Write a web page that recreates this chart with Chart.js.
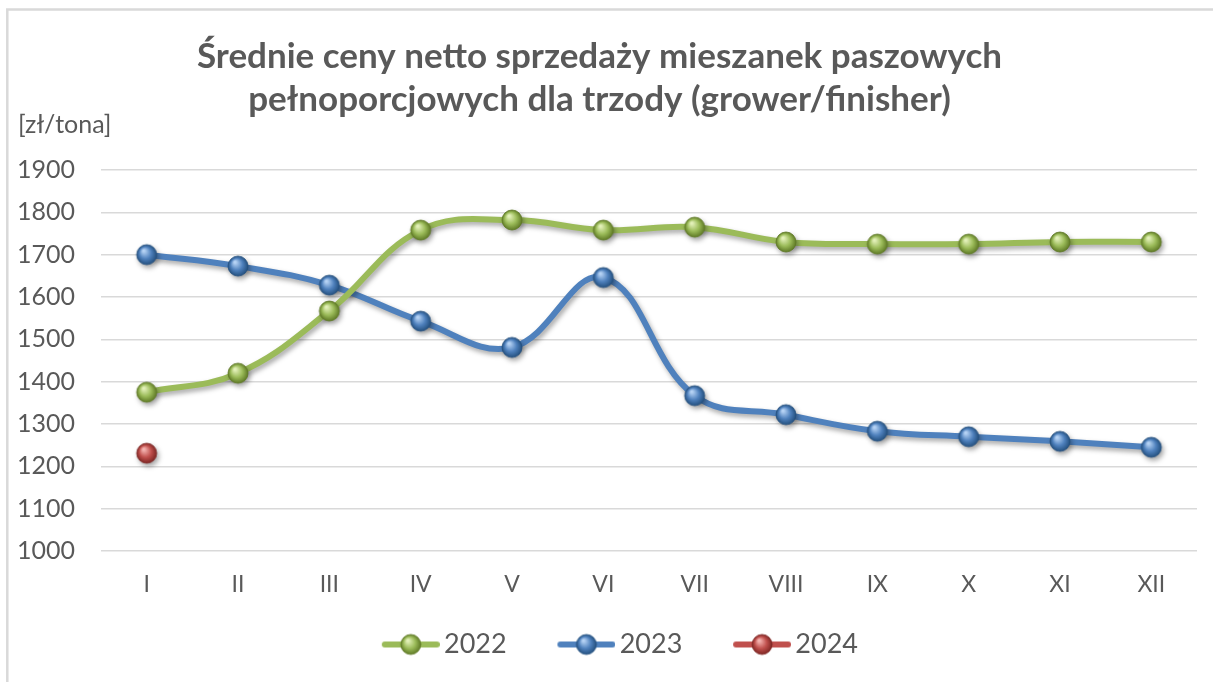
<!DOCTYPE html>
<html><head><meta charset="utf-8">
<script src="https://cdn.jsdelivr.net/npm/chart.js@4.4.1/dist/chart.umd.min.js"></script>
<style>html,body{margin:0;padding:0;background:#fff}#wrap{width:1213px;height:682px;position:relative}</style>
</head><body><div id="wrap"><canvas id="c" width="1213" height="682"></canvas></div>
<script>
const months = ['I','II','III','IV','V','VI','VII','VIII','IX','X','XI','XII'];
const v2022 = [1375,1420,1567,1758,1782,1758,1765,1730,1725,1725,1730,1730];
const v2023 = [1700,1673,1628,1543,1481,1646,1367,1322,1283,1270,1259,1245];
const v2024 = [1231,null,null,null,null,null,null,null,null,null,null,null];
const seriesNames = ['2022','2023','2024'];
const titleLines = ['Średnie ceny netto sprzedaży mieszanek paszowych','pełnoporcjowych dla trzody (grower/finisher)'];
const unitLabel = '[zł/tona]';

const colors = {
  '2022': {base:'#9BBB59', light:'#e2f0b8', dark:'#5f7a26'},
  '2023': {base:'#4F81BD', light:'#b5d2f4', dark:'#24507f'},
  '2024': {base:'#C0504D', light:'#f4b3b0', dark:'#7e2623'}
};
const FONT = 'Lato, Carlito, Calibri, sans-serif';
const TXT = '#595959';

function drawSphere(ctx, cx, cy, r, c) {
  const g = ctx.createRadialGradient(cx - r*0.3, cy - r*0.4, r*0.1, cx, cy, r);
  g.addColorStop(0, c.light);
  g.addColorStop(0.55, c.base);
  g.addColorStop(1, c.dark);
  ctx.beginPath(); ctx.arc(cx, cy, r, 0, Math.PI*2);
  ctx.fillStyle = g; ctx.fill();
  ctx.lineWidth = 0.8; ctx.strokeStyle = c.dark; ctx.stroke();
}
function sphereImage(c, r) {
  const cv = document.createElement('canvas');
  cv.width = cv.height = Math.ceil(2*r + 4);
  const ctx = cv.getContext('2d');
  drawSphere(ctx, cv.width/2, cv.height/2, r, c);
  return cv;
}
// legend symbol: transparent left part, then line with sphere (58px) on the right
function legendImage(c) {
  const cv = document.createElement('canvas');
  cv.width = 108; cv.height = 24;
  const ctx = cv.getContext('2d');
  const x0 = cv.width - 58;
  ctx.strokeStyle = c.base; ctx.lineWidth = 6; ctx.lineCap = 'round';
  ctx.beginPath(); ctx.moveTo(x0 + 3, 12); ctx.lineTo(x0 + 55, 12); ctx.stroke();
  drawSphere(ctx, x0 + 29, 12, 10, c);
  return cv;
}

const shadowPlugin = {
  id: 'shadow',
  beforeDatasetDraw(chart) {
    const ctx = chart.ctx; ctx.save();
    ctx.shadowColor = 'rgba(0,0,0,0.35)'; ctx.shadowBlur = 5; ctx.shadowOffsetX = 2; ctx.shadowOffsetY = 3;
  },
  afterDatasetDraw(chart) { chart.ctx.restore(); }
};
const decorPlugin = {
  id: 'decor',
  beforeDraw(chart) {
    const ctx = chart.ctx; ctx.save();
    ctx.fillStyle = '#fff'; ctx.fillRect(0,0,chart.width,chart.height);
    ctx.strokeStyle = '#d9d9d9'; ctx.lineWidth = 2.5;
    ctx.beginPath(); ctx.moveTo(7.3, chart.height + 5); ctx.lineTo(7.3, 9.5); ctx.lineTo(chart.width + 5, 9.5); ctx.stroke();
    ctx.restore();
  },
  afterDraw(chart) {
    const ctx = chart.ctx; ctx.save();
    ctx.font = '25px ' + FONT; ctx.fillStyle = TXT; ctx.textBaseline = 'middle'; ctx.textAlign = 'left';
    ctx.fillText(unitLabel, 18, 125);
    ctx.restore();
  }
};

const datasets = [v2022, v2023, v2024].map((vals, i) => {
  const c = colors[seriesNames[i]];
  return {
    label: seriesNames[i], data: vals,
    borderColor: c.base, backgroundColor: c.base, borderWidth: 6,
    tension: 0.4, pointStyle: sphereImage(c, 10), pointRadius: 10,
    order: i, spanGaps: false
  };
});

new Chart(document.getElementById('c'), {
  type: 'line',
  data: { labels: months, datasets },
  plugins: [decorPlugin, shadowPlugin],
  options: {
    responsive: false, animation: false, devicePixelRatio: 1,
    layout: { padding: { left: 0, right: 14, top: 0, bottom: 14 } },
    scales: {
      x: {
        offset: true,
        grid: { display: false, drawTicks: false },
        border: { display: false },
        ticks: { color: TXT, font: { family: FONT, size: 23 }, padding: 20, maxRotation: 0 },
        afterFit(scale) { scale.height = 70; }
      },
      y: {
        min: 1000, max: 1900,
        grid: { color: '#d9d9d9', lineWidth: 1.5, drawTicks: false },
        border: { display: false },
        ticks: { stepSize: 100, color: TXT, font: { family: FONT, size: 25 }, padding: 26,
                 callback: (v) => String(v) },
        afterFit(scale) { scale.width = 101; }
      }
    },
    plugins: {
      title: {
        display: true, text: titleLines, color: TXT,
        font: { family: FONT, size: 35, weight: 'bold', lineHeight: 43/35 },
        padding: { top: 35.5, bottom: 48.5 }
      },
      legend: {
        position: 'bottom',
        labels: {
          usePointStyle: true, pointStyleWidth: 89.5,
          generateLabels(chart) {
            return chart.data.datasets.map((d, i) => ({
              text: d.label, pointStyle: legendImage(colors[d.label]),
              fillStyle: d.borderColor, strokeStyle: d.borderColor, lineWidth: 0,
              fontColor: TXT, datasetIndex: i, hidden: false
            }));
          },
          color: TXT, font: { family: FONT, size: 27 }, padding: 10
        }
      },
      tooltip: { enabled: false }
    }
  }
});
</script></body></html>
